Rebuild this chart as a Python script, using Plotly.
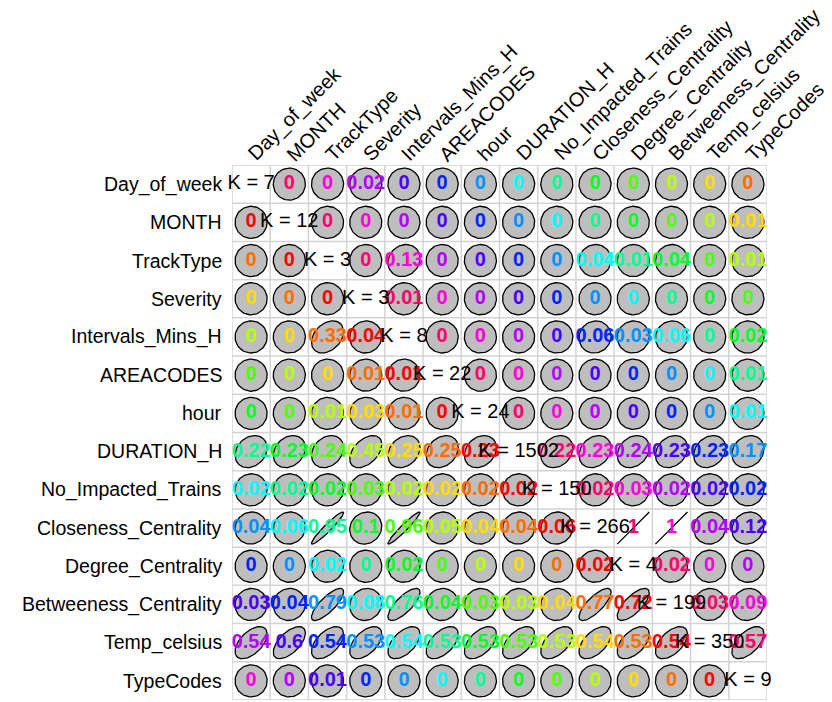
import colorsys
import numpy as np
import plotly.graph_objects as go

# Variables (rows = x variable, columns = y variable)
variables = [
    "Day_of_week", "MONTH", "TrackType", "Severity", "Intervals_Mins_H",
    "AREACODES", "hour", "DURATION_H", "No_Impacted_Trains",
    "Closeness_Centrality", "Degree_Centrality", "Betweeness_Centrality",
    "Temp_celsius", "TypeCodes",
]

# Number of distinct levels of each variable (diagonal)
levels = [7, 12, 3, 3, 8, 22, 24, 1502, 150, 266, 4, 199, 350, 9]

# Goodman-Kruskal tau association, one list per row (None on the diagonal)
tau_day_of_week = [None, 0, 0, 0.02, 0, 0, 0, 0, 0, 0, 0, 0, 0, 0]
tau_month = [0, None, 0, 0, 0, 0, 0, 0, 0, 0, 0, 0, 0, 0.01]
tau_tracktype = [0, 0, None, 0, 0.13, 0, 0, 0, 0, 0.04, 0.01, 0.04, 0, 0.01]
tau_severity = [0, 0, 0, None, 0.01, 0, 0, 0, 0, 0, 0, 0, 0, 0]
tau_intervals = [0, 0, 0.33, 0.04, None, 0, 0, 0, 0, 0.06, 0.03, 0.06, 0, 0.02]
tau_areacodes = [0, 0, 0, 0.01, 0.01, None, 0, 0, 0, 0, 0, 0, 0, 0.01]
tau_hour = [0, 0, 0.01, 0.03, 0.01, 0, None, 0, 0, 0, 0, 0, 0, 0.01]
tau_duration = [0.22, 0.23, 0.24, 0.45, 0.25, 0.25, 0.23, None, 0.22, 0.23, 0.24, 0.23, 0.23, 0.17]
tau_impacted = [0.02, 0.02, 0.02, 0.03, 0.02, 0.02, 0.02, 0.02, None, 0.02, 0.03, 0.02, 0.02, 0.02]
tau_closeness = [0.04, 0.06, 0.95, 0.1, 0.96, 0.05, 0.04, 0.04, 0.06, None, 1, 1, 0.04, 0.12]
tau_degree = [0, 0, 0.02, 0, 0.02, 0, 0, 0, 0, 0.02, None, 0.02, 0, 0]
tau_betweeness = [0.03, 0.04, 0.79, 0.08, 0.76, 0.04, 0.03, 0.03, 0.04, 0.77, 0.72, None, 0.03, 0.09]
tau_temp = [0.54, 0.6, 0.54, 0.53, 0.54, 0.53, 0.53, 0.53, 0.53, 0.54, 0.53, 0.54, None, 0.57]
tau_typecodes = [0, 0, 0.01, 0, 0, 0, 0, 0, 0, 0, 0, 0, 0, None]

tau_rows = [
    tau_day_of_week, tau_month, tau_tracktype, tau_severity, tau_intervals,
    tau_areacodes, tau_hour, tau_duration, tau_impacted, tau_closeness,
    tau_degree, tau_betweeness, tau_temp, tau_typecodes,
]

n = len(variables)
FONT = "Liberation Sans, Arial, sans-serif"
RADIUS = 0.42  # ellipse radius in cell units


def cell_color(i, j):
    s = i - j
    k = s - 1 if s > 0 else s % n
    r, g, b = colorsys.hsv_to_rgb(k / n, 1.0, 1.0)
    return "#%02x%02x%02x" % (round(r * 255), round(g * 255), round(b * 255))


def fmt(v):
    return f"{round(v, 2):g}"


# Ellipse outlines: x = cos(t + d/2), y = cos(t - d/2), d = acos(tau)
t = np.linspace(0, 2 * np.pi, 73)
ex, ey = [], []
tx, ty, ttext, tcol = [], [], [], []
kx, ky, ktext = [], [], []
for i in range(n):
    for j in range(n):
        cx, cy = j + 0.5, n - 0.5 - i
        v = tau_rows[i][j]
        if i == j:
            kx.append(cx)
            ky.append(cy)
            ktext.append(f"K = {levels[i]}")
            continue
        d = np.arccos(min(max(v, -1.0), 1.0))
        ex.extend((cx + RADIUS * np.cos(t + d / 2)).tolist() + [None])
        ey.extend((cy + RADIUS * np.cos(t - d / 2)).tolist() + [None])
        tx.append(cx)
        ty.append(cy)
        ttext.append(fmt(v))
        tcol.append(cell_color(i, j))

fig = go.Figure()

fig.add_trace(go.Scatter(
    x=ex, y=ey, mode="lines", fill="toself", fillcolor="#bebebe",
    line=dict(color="black", width=1.3), hoverinfo="skip", showlegend=False,
))
fig.add_trace(go.Scatter(
    x=tx, y=ty, mode="text", text=ttext, textposition="middle center",
    textfont=dict(family=FONT, size=20, color=tcol, weight="bold"),
    cliponaxis=False, hoverinfo="skip", showlegend=False,
))
fig.add_trace(go.Scatter(
    x=kx, y=ky, mode="text", text=ktext, textposition="middle center",
    textfont=dict(family=FONT, size=20, color="black"),
    cliponaxis=False, hoverinfo="skip", showlegend=False,
))

# Cell grid
shapes = []
for k in range(n + 1):
    shapes.append(dict(type="line", x0=k, x1=k, y0=0, y1=n, layer="below",
                       line=dict(color="#d3d3d3", width=1.5)))
    shapes.append(dict(type="line", x0=0, x1=n, y0=k, y1=k, layer="below",
                       line=dict(color="#d3d3d3", width=1.5)))

annotations = []
for i, name in enumerate(variables):
    # row labels
    annotations.append(dict(
        x=0, y=n - 0.5 - i, xref="x", yref="y", text=name, showarrow=False,
        xanchor="right", yanchor="middle", xshift=-8,
        font=dict(family=FONT, size=19.5, color="black"),
    ))
    # column labels, rotated
    annotations.append(dict(
        x=i + 0.5, y=n, xref="x", yref="y", text=name, showarrow=False,
        xanchor="left", yanchor="bottom", textangle=-45, xshift=-10, yshift=-3,
        font=dict(family=FONT, size=20, color="black"),
    ))

fig.update_layout(
    width=832, height=702,
    margin=dict(l=232, r=65, t=165, b=2, pad=0),
    paper_bgcolor="white", plot_bgcolor="white",
    xaxis=dict(range=[0, n], visible=False, fixedrange=True),
    yaxis=dict(range=[0, n], visible=False, fixedrange=True),
    shapes=shapes, annotations=annotations,
)

fig.write_html("out.html")
